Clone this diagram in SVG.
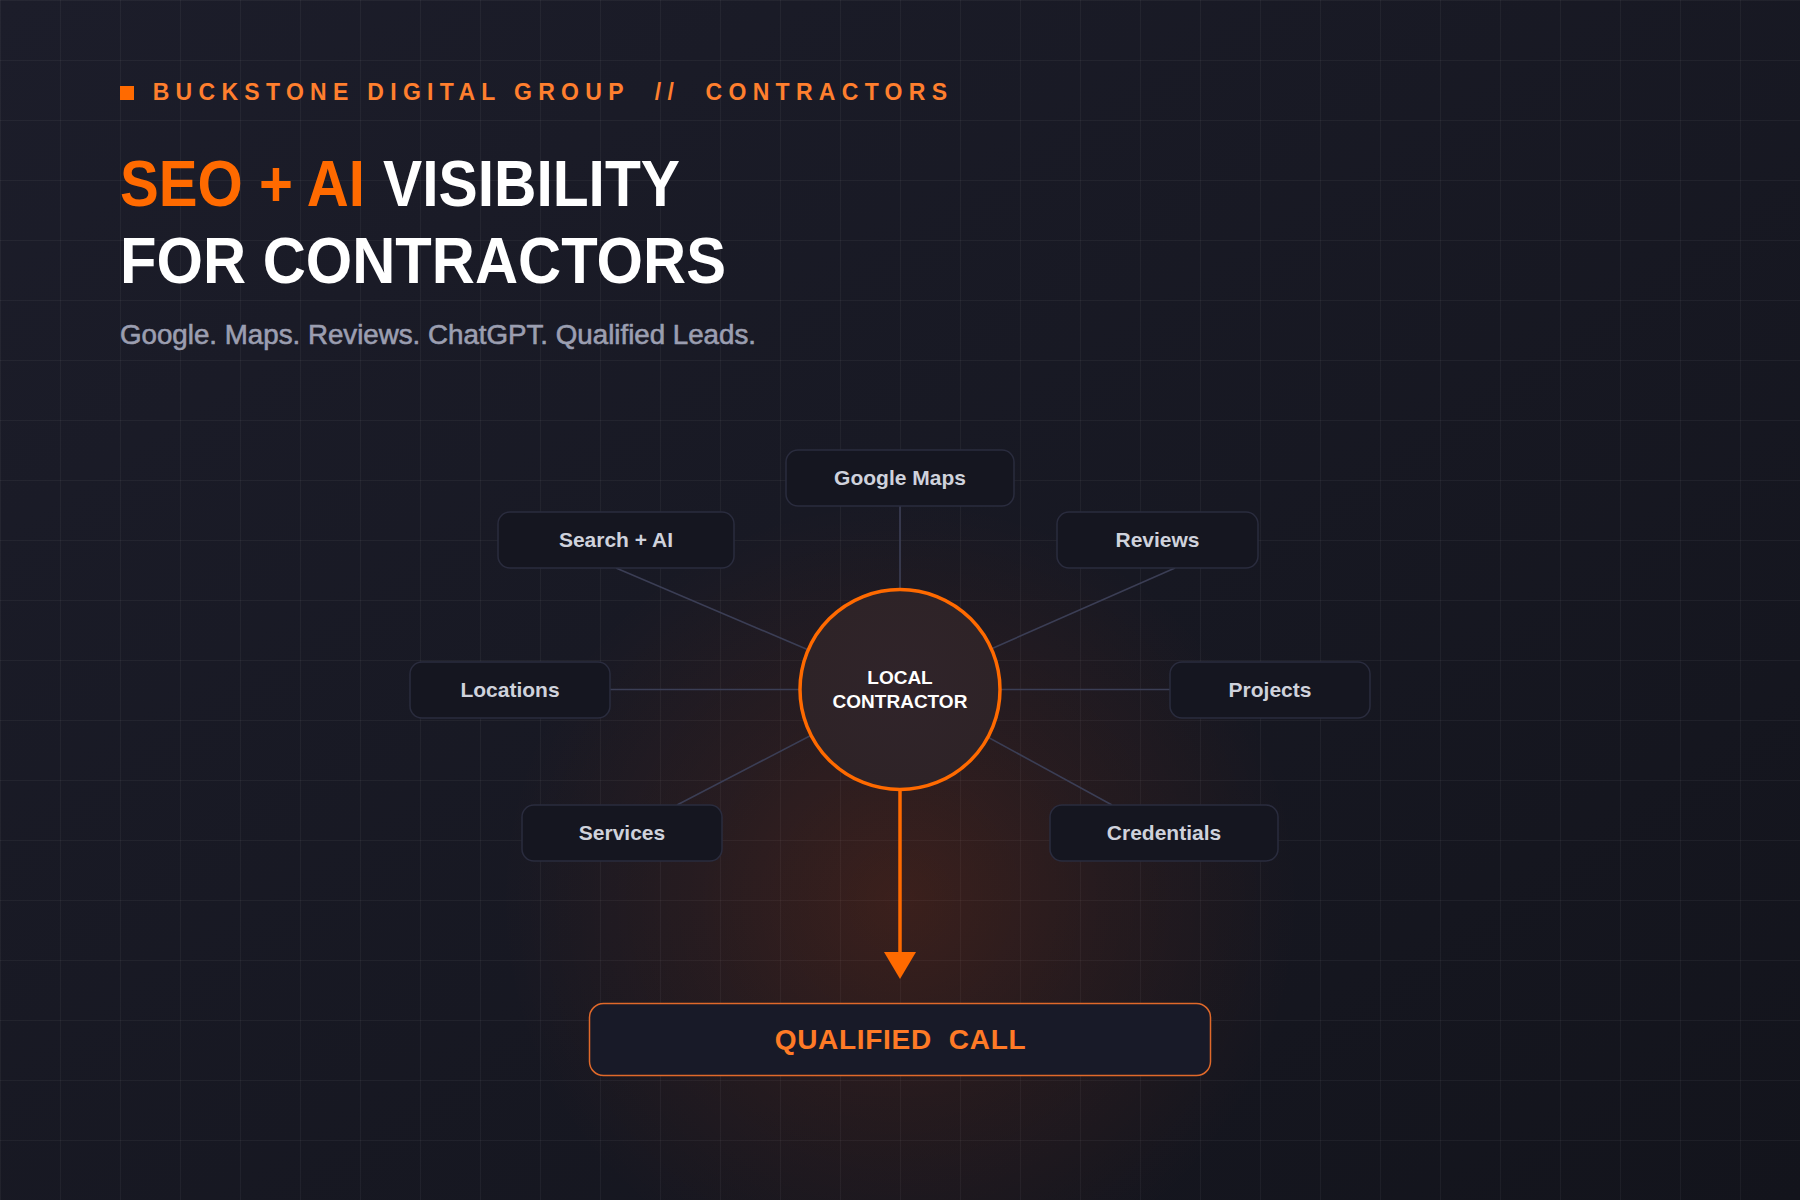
<svg xmlns="http://www.w3.org/2000/svg" width="1800" height="1200" viewBox="0 0 1800 1200">
  <defs>
    <linearGradient id="bg" x1="0" y1="0" x2="1" y2="1">
      <stop offset="0" stop-color="#1c1d2a"/>
      <stop offset="1" stop-color="#13141c"/>
    </linearGradient>
    <pattern id="grid" width="60" height="60" patternUnits="userSpaceOnUse">
      <path d="M0.5 0 V60 M0 0.5 H60" fill="none" stroke="#ffffff" stroke-opacity="0.045" stroke-width="1"/>
    </pattern>
    <radialGradient id="glow" cx="900" cy="900" r="400" gradientUnits="userSpaceOnUse">
      <stop offset="0" stop-color="#ff4d00" stop-opacity="0.16"/>
      <stop offset="0.5" stop-color="#ff4d00" stop-opacity="0.07"/>
      <stop offset="1" stop-color="#ff4d00" stop-opacity="0"/>
    </radialGradient>
    <radialGradient id="hubFill" cx="0.5" cy="0.5" r="0.5">
      <stop offset="0" stop-color="#30242a"/>
      <stop offset="1" stop-color="#2e2327"/>
    </radialGradient>
    <marker id="arrowHead" viewBox="0 0 27 32" refX="0" refY="16" markerWidth="27" markerHeight="32" markerUnits="userSpaceOnUse" orient="auto">
      <path d="M0 0 L27 16 L0 32 Z" fill="#ff6a00"/>
    </marker>
    <style>
      .node rect { fill: #151620; stroke: #2a2c3e; stroke-width: 1.5; }
      .label { font-family: "Liberation Sans", Arial, sans-serif; font-weight: 700; font-size: 21px; fill: #cfd2dc; text-anchor: middle; }
      .conn { stroke: #3b3e55; stroke-width: 1.6; fill: none; }
      .hubtext { font-family: "Liberation Sans", Arial, sans-serif; font-weight: 700; font-size: 19px; fill: #ffffff; text-anchor: middle; }
    </style>
  </defs>

  <rect width="1800" height="1200" fill="url(#bg)"/>
  <rect width="1800" height="1200" fill="url(#grid)"/>
  <rect width="1800" height="1200" fill="url(#glow)"/>

  <!-- Header -->
  <rect x="120" y="86" width="14" height="14" fill="#ff6a00"/>
  <text x="152.7" y="100" xml:space="preserve" style="white-space:pre" font-family="Liberation Sans, Arial, sans-serif" font-weight="700" font-size="23" letter-spacing="6.3" fill="#ff7f2e">BUCKSTONE DIGITAL GROUP  //  CONTRACTORS</text>

  <text x="120" y="205.5" font-family="Liberation Sans, Arial, sans-serif" font-weight="700" font-size="64" fill="#ff6a00" textLength="245" lengthAdjust="spacingAndGlyphs">SEO + AI</text>
  <text x="383" y="205.5" font-family="Liberation Sans, Arial, sans-serif" font-weight="700" font-size="64" fill="#ffffff" textLength="297" lengthAdjust="spacingAndGlyphs">VISIBILITY</text>
  <text x="120" y="282.5" font-family="Liberation Sans, Arial, sans-serif" font-weight="700" font-size="64" fill="#ffffff" textLength="606" lengthAdjust="spacingAndGlyphs">FOR CONTRACTORS</text>

  <text x="120" y="344" font-family="Liberation Sans, Arial, sans-serif" font-size="27" fill="#9b9eb0" stroke="#9b9eb0" stroke-width="0.6" textLength="636" lengthAdjust="spacingAndGlyphs">Google. Maps. Reviews. ChatGPT. Qualified Leads.</text>

  <!-- Connectors -->
  <g id="connectors">
    <line class="conn" x1="900" y1="506" x2="900" y2="689"/>
    <line class="conn" x1="616" y1="568" x2="900" y2="689"/>
    <line class="conn" x1="1175" y1="568" x2="900" y2="689"/>
    <line class="conn" x1="610" y1="689.5" x2="900" y2="689.5"/>
    <line class="conn" x1="900" y1="689.5" x2="1170" y2="689.5"/>
    <line class="conn" x1="677" y1="805" x2="900" y2="689"/>
    <line class="conn" x1="1112" y1="805" x2="900" y2="689"/>
    <line x1="900" y1="790" x2="900" y2="952" stroke="#ff6a00" stroke-width="3.5" marker-end="url(#arrowHead)"/>
  </g>

  <!-- Nodes -->
  <g id="node-google-maps" class="node">
    <rect x="786" y="450" width="228" height="56" rx="12"/>
    <text class="label" x="900" y="485">Google Maps</text>
  </g>
  <g id="node-search-ai" class="node">
    <rect x="498" y="512" width="236" height="56" rx="12"/>
    <text class="label" x="616" y="547">Search + AI</text>
  </g>
  <g id="node-reviews" class="node">
    <rect x="1057" y="512" width="201" height="56" rx="12"/>
    <text class="label" x="1157.5" y="547">Reviews</text>
  </g>
  <g id="node-locations" class="node">
    <rect x="410" y="662" width="200" height="56" rx="12"/>
    <text class="label" x="510" y="697">Locations</text>
  </g>
  <g id="node-projects" class="node">
    <rect x="1170" y="662" width="200" height="56" rx="12"/>
    <text class="label" x="1270" y="697">Projects</text>
  </g>
  <g id="node-services" class="node">
    <rect x="522" y="805" width="200" height="56" rx="12"/>
    <text class="label" x="622" y="840">Services</text>
  </g>
  <g id="node-credentials" class="node">
    <rect x="1050" y="805" width="228" height="56" rx="12"/>
    <text class="label" x="1164" y="840">Credentials</text>
  </g>

  <g id="node-local-contractor">
    <circle cx="900" cy="689.5" r="100" fill="url(#hubFill)" stroke="#ff6a00" stroke-width="3.5"/>
    <text class="hubtext" x="900" y="684">LOCAL</text>
    <text class="hubtext" x="900" y="708">CONTRACTOR</text>
  </g>

  <g id="node-qualified-call">
    <rect x="589.5" y="1003.5" width="621" height="72" rx="14" fill="#181a28" stroke="#e0692a" stroke-width="1.5"/>
    <text x="900.5" y="1049" xml:space="preserve" style="white-space:pre" text-anchor="middle" font-family="Liberation Sans, Arial, sans-serif" font-weight="700" font-size="28" letter-spacing="0.7" fill="#ff7a26">QUALIFIED  CALL</text>
  </g>
</svg>
